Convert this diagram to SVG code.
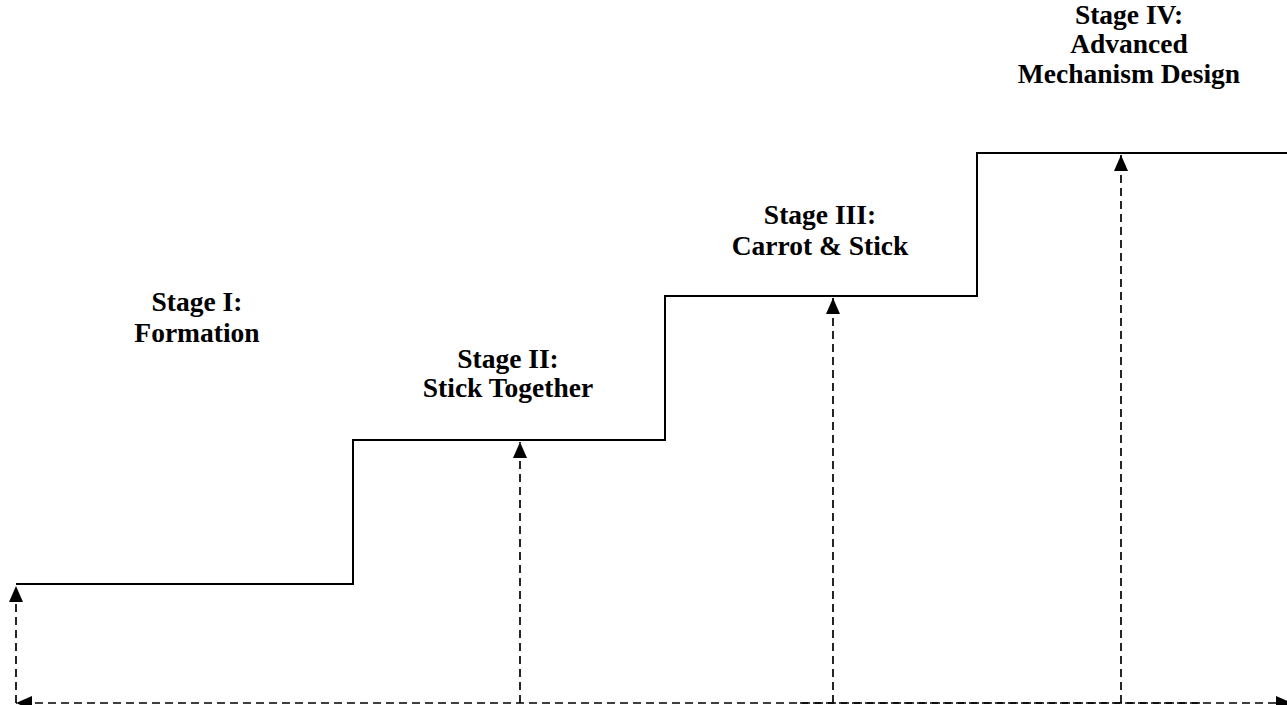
<svg xmlns="http://www.w3.org/2000/svg" width="1287" height="705" viewBox="0 0 1287 705">
<style>
.lbl{font-family:"Liberation Serif","Times New Roman",serif;font-weight:bold;font-size:27.5px;fill:#000;text-anchor:middle}
.stair{fill:none;stroke:#000;stroke-width:2}
.dash{fill:none;stroke:#000;stroke-width:1.7;stroke-dasharray:8 5}
</style>
<defs>
<marker id="ah" markerWidth="16" markerHeight="14" viewBox="0 0 16 14" refX="16" refY="7" orient="auto" markerUnits="userSpaceOnUse">
<path d="M0,0 L16,7 L0,14 Z" fill="#000"/>
</marker>
</defs>
<rect width="1287" height="705" fill="#fff"/>
<g id="stairs">
<path class="stair" d="M16,584 H353 V440 H665 V296 H977 V153 H1287"/>
</g>
<g id="connectors">
<path class="dash" d="M16,703 V586" marker-end="url(#ah)"/>
<path class="dash" d="M520,703 V442" marker-end="url(#ah)"/>
<path class="dash" d="M833,703 V298" marker-end="url(#ah)"/>
<path class="dash" d="M1121,703 V155" marker-end="url(#ah)"/>
<path class="dash" d="M1200,703 H16" marker-end="url(#ah)"/>
<path class="dash" d="M800,703 H1292" marker-end="url(#ah)"/>
</g>
<g id="stage1"><text class="lbl" x="197" y="311">Stage I:</text><text class="lbl" x="197" y="342">Formation</text></g>
<g id="stage2"><text class="lbl" x="508" y="368">Stage II:</text><text class="lbl" x="508" y="397">Stick Together</text></g>
<g id="stage3"><text class="lbl" x="820" y="224">Stage III:</text><text class="lbl" x="820" y="255">Carrot &amp; Stick</text></g>
<g id="stage4"><text class="lbl" x="1129" y="24">Stage IV:</text><text class="lbl" x="1129" y="53">Advanced</text><text class="lbl" x="1129" y="83">Mechanism Design</text></g>
</svg>
